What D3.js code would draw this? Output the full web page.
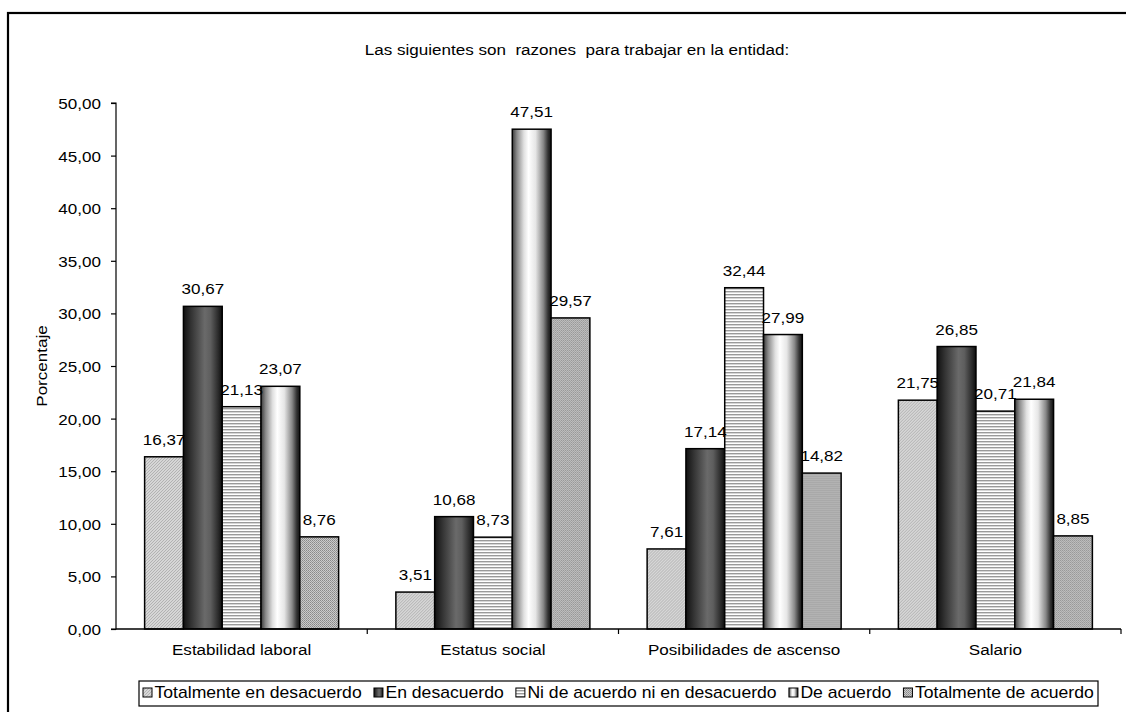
<!DOCTYPE html>
<html><head><meta charset="utf-8">
<script src="https://cdn.jsdelivr.net/npm/d3@7/dist/d3.min.js"></script>
<style>
html,body{margin:0;padding:0;background:#fff;}
text{font-family:"Liberation Sans",Arial,sans-serif;fill:#000;white-space:pre;}
</style></head>
<body>
<svg id="chart" width="1126" height="712"></svg>
<script>
const categories = ["Estabilidad laboral","Estatus social","Posibilidades de ascenso","Salario"];
const seriesNames = ["Totalmente en desacuerdo","En desacuerdo","Ni de acuerdo ni en desacuerdo","De acuerdo","Totalmente de acuerdo"];
const totDesacuerdo = [16.37, 3.51, 7.61, 21.75];
const enDesacuerdo = [30.67, 10.68, 17.14, 26.85];
const niNi = [21.13, 8.73, 32.44, 20.71];
const deAcuerdo = [23.07, 47.51, 27.99, 21.84];
const totAcuerdo = [8.76, 29.57, 14.82, 8.85];
const yTicks = [0,5,10,15,20,25,30,35,40,45,50];
const titleText = "Las siguientes son  razones  para trabajar en la entidad:";
const yLabel = "Porcentaje";

const seriesValues = [totDesacuerdo, enDesacuerdo, niNi, deAcuerdo, totAcuerdo];
const fills = ["url(#p0)","url(#g1)","url(#p2)","url(#g3)","url(#p4)"];
const FS = 15.5, SX = 1.1;

const loc = d3.formatLocale({decimal:",", thousands:".", grouping:[3], currency:["",""]});
const fmt = loc.format(".2f");

const svg = d3.select("#chart");
const defs = svg.append("defs");
const p0 = defs.append("pattern").attr("id","p0").attr("patternUnits","userSpaceOnUse").attr("width",3).attr("height",3);
p0.append("rect").attr("width",3).attr("height",3).attr("fill","#d6d6d6");
p0.append("path").attr("d","M0,3 L3,0 M-1,1 L1,-1 M2,4 L4,2").attr("stroke","#a8a8a8").attr("stroke-width",0.8);
const g1 = defs.append("linearGradient").attr("id","g1").attr("x1","0").attr("x2","1").attr("y1","0").attr("y2","0");
[[0,"#111"],[0.2,"#333"],[0.55,"#6a6a6a"],[0.7,"#5e5e5e"],[0.9,"#2a2a2a"],[1,"#0d0d0d"]].forEach(s=>g1.append("stop").attr("offset",s[0]).attr("stop-color",s[1]));
const p2 = defs.append("pattern").attr("id","p2").attr("patternUnits","userSpaceOnUse").attr("width",4).attr("height",3);
p2.append("rect").attr("width",4).attr("height",3).attr("fill","#ffffff");
p2.append("rect").attr("width",4).attr("height",1.4).attr("fill","#9a9a9a");
const g3 = defs.append("linearGradient").attr("id","g3").attr("x1","0").attr("x2","1").attr("y1","0").attr("y2","0");
[[0,"#3a3a3a"],[0.12,"#8a8a8a"],[0.3,"#e0e0e0"],[0.42,"#ffffff"],[0.6,"#e6e6e6"],[0.8,"#888"],[0.92,"#333"],[1,"#111"]].forEach(s=>g3.append("stop").attr("offset",s[0]).attr("stop-color",s[1]));
const p4 = defs.append("pattern").attr("id","p4").attr("patternUnits","userSpaceOnUse").attr("width",2).attr("height",2);
p4.append("rect").attr("width",2).attr("height",2).attr("fill","#cacaca");
p4.append("rect").attr("width",1).attr("height",1).attr("fill","#888");
p4.append("rect").attr("x",1).attr("y",1).attr("width",1).attr("height",1).attr("fill","#999");

svg.append("rect").attr("x",8).attr("y",13).attr("width",1130).attr("height",720)
  .attr("fill","none").attr("stroke","#000").attr("stroke-width",2.2);

function txt(parent, x, y, s, anchor, extra){
  return parent.append("text").attr("transform","translate("+x+","+y+")"+(extra||"")+" scale("+SX+",1)")
    .attr("text-anchor",anchor||"middle").attr("font-size",FS).text(s);
}

const pLeft = 116, pRight = 1121, pTop = 103, pBottom = 629;
const x0 = d3.scaleBand().domain(categories).range([pLeft,pRight]).padding(0);
const y = d3.scaleLinear().domain([0,50]).range([pBottom,pTop]);

const bw = 38.8;
const groupW = bw*seriesNames.length;
const xs = d3.scaleBand().domain(d3.range(seriesNames.length))
  .range([(x0.bandwidth()-groupW)/2,(x0.bandwidth()+groupW)/2]).padding(0);

txt(svg, 577, 55, titleText);
txt(svg, 47, 366, yLabel, "middle", " rotate(-90)");

const yAxis = d3.axisLeft(y).tickValues(yTicks).tickFormat(fmt).tickSize(5).tickPadding(10);
const gy = svg.append("g").attr("transform","translate("+pLeft+",0)").call(yAxis);
gy.select(".domain").attr("stroke","#000").attr("stroke-width",1.2).attr("d","M-5,"+pTop+"H0V"+pBottom+"H-5");
gy.selectAll(".tick line").attr("stroke","#000").attr("stroke-width",1.2);
gy.selectAll(".tick text").each(function(){
  const t = d3.select(this); const xx = +t.attr("x");
  t.attr("x",0).attr("dy","0.36em").attr("transform","translate("+xx+",0) scale("+SX+",1)")
   .attr("font-size",FS).attr("font-family","Liberation Sans, Arial, sans-serif").attr("fill","#000");
});

const groups = svg.append("g").selectAll("g").data(categories).join("g")
  .attr("transform",d=>"translate("+x0(d)+",0)");
seriesValues.forEach((vals,si)=>{
  groups.append("rect")
    .attr("x",xs(si)).attr("width",xs.bandwidth())
    .attr("y",(d,ci)=>y(vals[ci])).attr("height",(d,ci)=>pBottom-y(vals[ci]))
    .attr("fill",fills[si]).attr("stroke","#000").attr("stroke-width",1.5);
});
seriesValues.forEach((vals,si)=>{
  groups.append("text")
    .attr("transform",(d,ci)=>"translate("+(xs(si)+xs.bandwidth()/2)+","+(y(vals[ci])-12)+") scale("+SX+",1)")
    .attr("text-anchor","middle").attr("font-size",FS)
    .text((d,ci)=>fmt(vals[ci]));
});

const xAxis = d3.axisBottom(x0).tickSize(0).tickPadding(0);
const gx = svg.append("g").attr("transform","translate(0,"+pBottom+")").call(xAxis);
gx.select(".domain").attr("stroke","#000").attr("stroke-width",1.4).attr("d","M"+pLeft+",0H"+pRight);
gx.selectAll(".tick text").attr("y",0).attr("dy",0).attr("transform","translate(0,26) scale("+SX+",1)")
  .attr("font-size",FS).attr("font-family","Liberation Sans, Arial, sans-serif").attr("fill","#000");
gx.selectAll(".bnd").data(d3.range(categories.length)).join("line").attr("class","bnd")
  .attr("x1",i=>pLeft+x0.bandwidth()*(i+1)).attr("x2",i=>pLeft+x0.bandwidth()*(i+1))
  .attr("y1",0).attr("y2",5).attr("stroke","#000").attr("stroke-width",1.2);

// legend
const lgX0 = 139, lgX1 = 1098;
const lg = svg.append("g");
lg.append("rect").attr("x",lgX0).attr("y",681).attr("width",lgX1-lgX0).attr("height",25)
  .attr("fill","#fff").attr("stroke","#000").attr("stroke-width",1.2);
const items = seriesNames.map((name,i)=>{
  const sq = lg.append("rect").attr("y",688).attr("width",9).attr("height",9)
    .attr("fill",fills[i]).attr("stroke","#000").attr("stroke-width",1);
  const t = lg.append("text").attr("font-size",16).attr("text-anchor","start").text(name);
  return {sq, t, w: t.node().getComputedTextLength()*SX};
});
const sqGap = 2.5, inner = 4;
const used = d3.sum(items, d=>9+sqGap+d.w);
const gap = (lgX1-lgX0-2*inner-used)/(items.length-1);
let lx = lgX0+inner;
items.forEach(it=>{
  it.sq.attr("x",lx);
  it.t.attr("transform","translate("+(lx+9+sqGap)+",697.5) scale("+SX+",1)");
  lx += 9+sqGap+it.w+gap;
});
</script>
</body></html>
